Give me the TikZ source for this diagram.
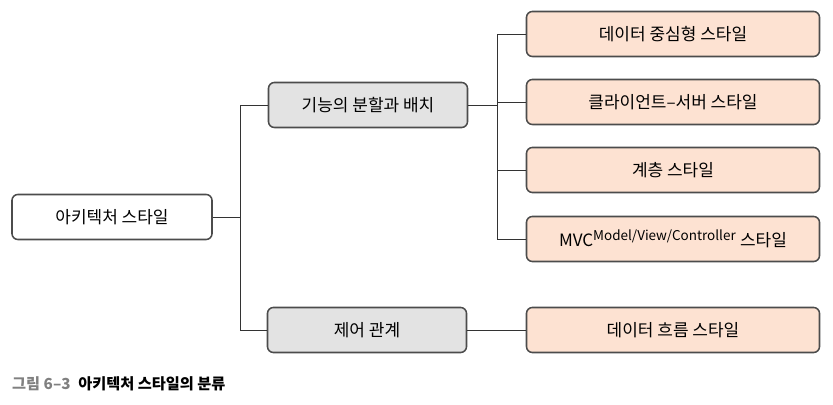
\documentclass[tikz,border=0pt]{standalone}
\usepackage{fontspec}
\setmainfont{Noto Sans CJK KR}
\definecolor{peach}{RGB}{253,226,210}
\begin{document}
\begin{tikzpicture}[x=0.03cm,y=-0.03cm,
 box/.style={draw=black!70,line width=1.3pt,rounded corners=5pt,minimum height=45*0.03cm,inner sep=0pt,font=\fontsize{14.5}{16}\selectfont},
 root/.style={box,fill=white,minimum width=200*0.03cm},
 mid/.style={box,fill=black!11,minimum width=199*0.03cm},
 leaf/.style={box,fill=peach,minimum width=293*0.03cm},
 ln/.style={draw=black!80,line width=0.8pt}]
\useasboundingbox (0,0) rectangle (833,405);
\node[root] (r) at (112,217) {아키텍처 스타일};
\node[mid] (m1) at (368,105) {기능의 분할과 배치};
\node[mid] (m2) at (367,330) {제어 관계};
\node[leaf] (l1) at (673,34) {데이터 중심형 스타일};
\node[leaf] (l2) at (673,102) {클라이언트–서버 스타일};
\node[leaf] (l3) at (673,170) {계층 스타일};
\node[leaf] (l4) at (673,239) {MVC\textsuperscript{\fontsize{11.5}{13}\selectfont Model/View/Controller} 스타일};
\node[leaf] (l5) at (673,330) {데이터 흐름 스타일};
\coordinate (a) at (240,217);
\coordinate (b) at (497,105);
\draw[ln] (r.east) -- (a);
\draw[ln] (a) |- (m1.west);
\draw[ln] (a) |- (m2.west);
\draw[ln] (m1.east) -- (b);
\foreach \n in {l1,l2,l3,l4} \draw[ln] (b) |- (\n.west);
\draw[ln] (m2.east) -- (l5.west);
\node[anchor=west,font=\fontsize{13}{15}\selectfont\bfseries,inner sep=0pt] (cap) at (12,384) {\textcolor{black!50}{그림 6–3}\enspace 아키텍처 스타일의 분류};
\end{tikzpicture}
\end{document}
